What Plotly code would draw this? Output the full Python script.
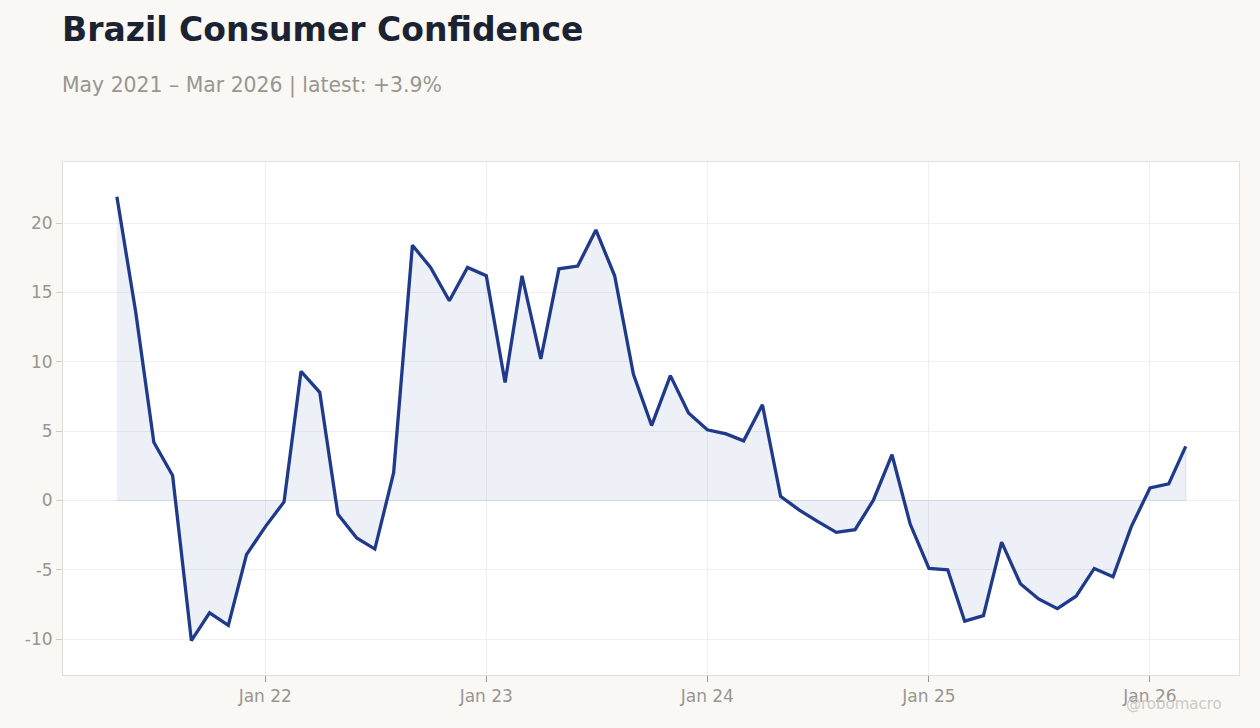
import pandas as pd
import plotly.graph_objects as go

dates = pd.date_range("2021-05-01", "2026-03-01", freq="MS")
values = [21.9, 13.6, 4.2, 1.8, -10.1, -8.1, -9.0, -3.9,
          -1.9, -0.1, 9.3, 7.8, -1.0, -2.7, -3.5, 2.0, 18.4, 16.8, 14.4, 16.8,
          16.2, 8.5, 16.2, 10.2, 16.7, 16.9, 19.5, 16.2, 9.1, 5.4, 9.0, 6.3,
          5.1, 4.8, 4.3, 6.9, 0.3, -0.7, -1.5, -2.3, -2.1, 0.0, 3.3, -1.7,
          -4.9, -5.0, -8.7, -8.3, -3.0, -6.0, -7.1, -7.8, -6.9, -4.9, -5.5, -1.9,
          0.9, 1.2, 3.9]
tick_dates = ["2022-01-01", "2023-01-01", "2024-01-01", "2025-01-01", "2026-01-01"]
tick_labels = ["Jan 22", "Jan 23", "Jan 24", "Jan 25", "Jan 26"]
y_ticks = [-10, -5, 0, 5, 10, 15, 20]
y_tick_labels = ["-10", "-5", "0", "5", "10", "15", "20"]

title = "Brazil Consumer Confidence"
subtitle = "May 2021 – Mar 2026 | latest: +3.9%"

LINE = "#1f3a8a"
FONT = "DejaVu Sans"

fig = go.Figure()

# filled area polygon (data + baseline)
poly_x = list(dates) + [dates[-1], dates[0]]
poly_y = list(values) + [0, 0]
fig.add_trace(go.Scatter(
    x=poly_x, y=poly_y, mode="lines", fill="toself",
    fillcolor="rgba(31,58,138,0.08)",
    line=dict(color="rgba(31,58,138,0.10)", width=1.2),
    hoverinfo="skip", showlegend=False))

fig.add_trace(go.Scatter(
    x=dates, y=values, mode="lines",
    line=dict(color=LINE, width=3.3),
    showlegend=False))

fig.update_layout(
    width=1260, height=728,
    paper_bgcolor="#f9f8f5", plot_bgcolor="#ffffff",
    margin=dict(l=63, r=21, t=162, b=53),
    font=dict(family=FONT, color="#999590"),
    showlegend=False,
    annotations=[
        dict(text=f"<b>{title}</b>", xref="paper", yref="paper",
             x=0.0, y=1.0, xanchor="left", yanchor="bottom",
             xshift=-3, yshift=111, showarrow=False,
             font=dict(family=FONT, size=33, color="#1b2333")),
        dict(text=subtitle, xref="paper", yref="paper",
             x=0.0, y=1.0, xanchor="left", yanchor="bottom",
             xshift=-3, yshift=62, showarrow=False,
             font=dict(family=FONT, size=20.4, color="#999590")),
        dict(text="@robomacro", xref="paper", yref="paper",
             x=1.0, y=0.0, xanchor="right", yanchor="top",
             xshift=-15, yshift=-18, showarrow=False,
             font=dict(family=FONT, size=15, color="#cdcac5")),
    ],
)

fig.update_xaxes(
    type="date",
    range=["2021-02-01", "2026-05-28"],
    tickvals=tick_dates, ticktext=tick_labels,
    ticks="outside", ticklen=6, tickcolor="#999590",
    tickfont=dict(size=17, color="#999590"),
    showgrid=True, gridcolor="#efefef", gridwidth=1,
    showline=True, linecolor="#e2ddd5", linewidth=1, mirror=True,
    zeroline=False,
)
fig.update_yaxes(
    range=[-12.58, 24.4],
    tickvals=y_ticks, ticktext=y_tick_labels,
    ticks="outside", ticklen=6, tickcolor="#d0ccc6",
    tickfont=dict(size=17, color="#999590"),
    showgrid=True, gridcolor="#f0f0f0", gridwidth=1,
    showline=True, linecolor="#e2ddd5", linewidth=1, mirror=True,
    zeroline=False,
)

fig.write_html("out.html")
